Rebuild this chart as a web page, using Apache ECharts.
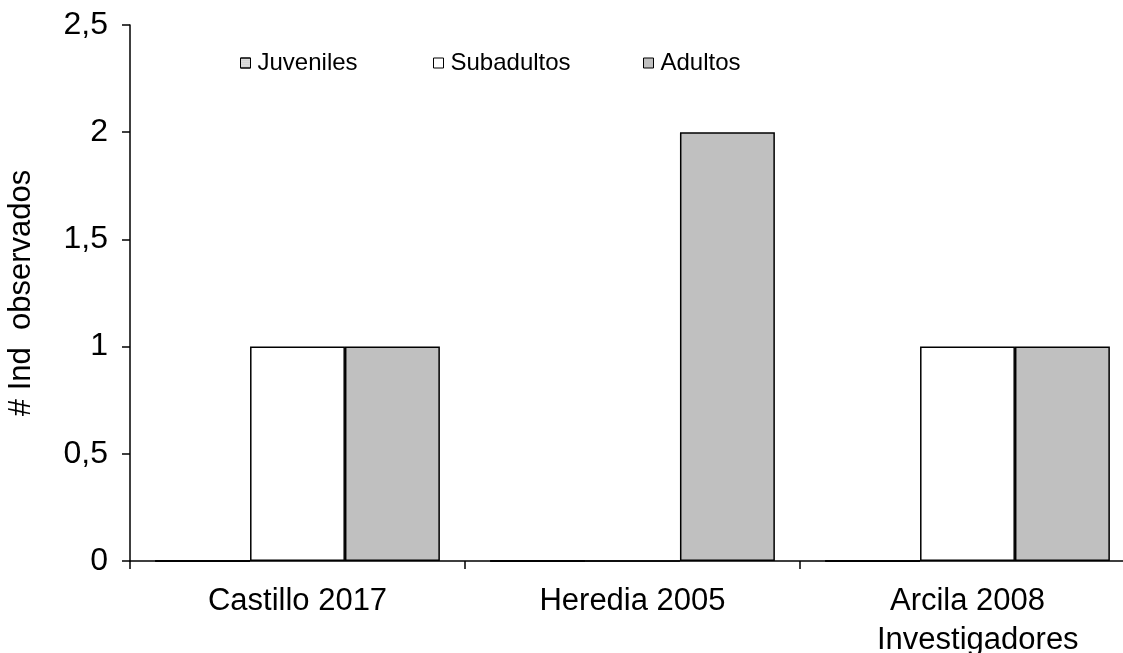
<!DOCTYPE html>
<html>
<head>
<meta charset="utf-8">
<script src="https://cdn.jsdelivr.net/npm/echarts@6/dist/echarts.min.js"></script>
<style>
  html, body { margin: 0; padding: 0; background: #fff; }
  #chart { width: 1123px; height: 653px; }
</style>
</head>
<body>
<div id="chart"></div>
<script>
// Observed individuals per source, split by age class
const categories = ['Castillo 2017', 'Heredia 2005', 'Arcila 2008'];
const juveniles = [0, 0, 0];
const subadultos = [1, 0, 1];
const adultos = [1, 2, 1];
const yTicks = [0, 0.5, 1, 1.5, 2, 2.5];

const FONT = '"Liberation Sans", Arial, sans-serif';
const chart = echarts.init(document.getElementById('chart'), null, { renderer: 'canvas' });

const barBorder = { borderColor: '#000', borderWidth: 1.5 };
const legendBase = {
  top: 46,
  icon: 'rect',
  itemWidth: 10,
  itemHeight: 10,
  itemGap: 10,
  textStyle: { fontFamily: FONT, fontSize: 24, color: '#000', padding: [0, 0, 0, 2] },
  itemStyle: { borderColor: '#000', borderWidth: 1 },
  selectedMode: false
};

chart.setOption({
  backgroundColor: '#fff',
  animation: false,
  legend: [
    Object.assign({}, legendBase, { left: 235, data: ['Juveniles'] }),
    Object.assign({}, legendBase, { left: 428, data: ['Subadultos'] }),
    Object.assign({}, legendBase, { left: 638, data: ['Adultos'] })
  ],
  // the category axis runs a little past the right edge of the canvas
  grid: { left: 130, width: 1005, top: 25, bottom: 92, containLabel: false, outerBoundsMode: 'none' },
  xAxis: {
    type: 'category',
    data: categories,
    axisLine: { lineStyle: { color: '#000', width: 1.5 } },
    axisTick: { show: true, length: 8, lineStyle: { color: '#000', width: 1.5 } },
    axisLabel: { fontFamily: FONT, fontSize: 31, color: '#000', margin: 25 },
    splitLine: { show: false }
  },
  yAxis: {
    type: 'value',
    min: yTicks[0],
    max: yTicks[yTicks.length - 1],
    interval: 0.5,
    name: '# Ind  observados',
    nameLocation: 'middle',
    nameGap: 93,
    nameRotate: 90,
    nameTextStyle: { fontFamily: FONT, fontSize: 31, color: '#000' },
    axisLine: { show: true, lineStyle: { color: '#000', width: 1.5 } },
    axisTick: { show: true, length: 8, lineStyle: { color: '#000', width: 1.5 } },
    axisLabel: {
      fontFamily: FONT, fontSize: 32, color: '#000', margin: 22,
      formatter: v => String(v).replace('.', ',')
    },
    splitLine: { show: false }
  },
  graphic: [{
    type: 'text',
    left: 877,
    top: 625,
    style: { text: 'Investigadores', fontFamily: FONT, fontSize: 31, fill: '#000' }
  }],
  series: [
    {
      name: 'Juveniles', type: 'bar', data: juveniles,
      barGap: '0%', barCategoryGap: '15%',
      itemStyle: Object.assign({
        color: '#dcdcdc',
        decal: { symbol: 'rect', symbolSize: 0.5, color: 'rgba(120,120,120,0.6)', dashArrayX: [1, 1], dashArrayY: [1, 1], rotation: 0 }
      }, barBorder)
    },
    {
      name: 'Subadultos', type: 'bar', data: subadultos,
      barGap: '0%', barCategoryGap: '15%',
      itemStyle: Object.assign({ color: '#ffffff' }, barBorder)
    },
    {
      name: 'Adultos', type: 'bar', data: adultos,
      barGap: '0%', barCategoryGap: '15%',
      itemStyle: Object.assign({ color: '#c0c0c0' }, barBorder)
    }
  ]
});
</script>
</body>
</html>
